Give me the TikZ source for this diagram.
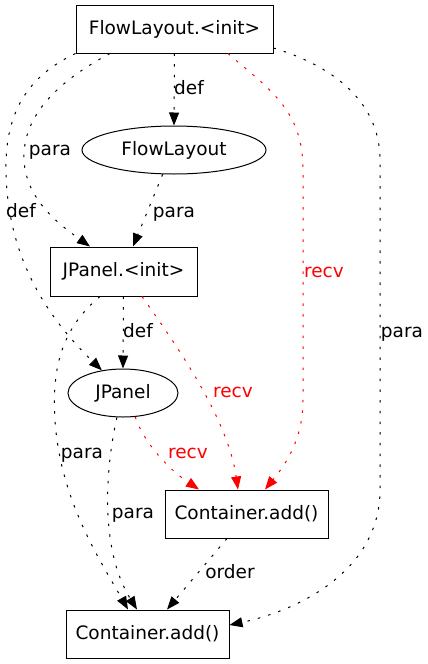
\documentclass[tikz,border=0pt]{standalone}
\usepackage{fontspec}
\setmainfont{DejaVu Sans}
\usetikzlibrary{arrows.meta,shapes.geometric}
\tikzset{
  txt/.style={font=\fontsize{18.5pt}{22pt}\selectfont},
  boxnode/.style={txt,draw=black,line width=1pt,rectangle,inner sep=0pt,minimum height=48pt,text height=14pt,text depth=3.5pt},
  ellnode/.style={txt,draw=black,line width=1pt,ellipse,inner sep=0pt,minimum height=48pt,text height=14pt,text depth=3.5pt},
  lab/.style={txt,inner sep=0pt,anchor=base},
  redlab/.style={lab,text=red},
  dep/.style={line width=1pt,dash pattern=on 2.5pt off 8.2pt,-{Triangle[length=13pt,width=10pt]}},
  reddep/.style={dep,draw=red,-{Triangle[length=13pt,width=10pt,fill=red]}}
}
\begin{document}
\begin{tikzpicture}[x=1pt,y=-1pt]
\fill[white] (0,0) rectangle (428,664);
\useasboundingbox (0,0) rectangle (428,664);
% nodes
\node[boxnode,minimum width=197pt] (fi) at (174.5,29) {FlowLayout.<init>};
\node[ellnode,minimum width=184pt] (fl) at (174,150) {FlowLayout};
\node[boxnode,minimum width=147pt,minimum height=49pt] (jpi) at (123.5,271.5) {JPanel.<init>};
\node[ellnode,minimum width=110pt] (jp) at (123,393) {JPanel};
\node[boxnode,minimum width=163pt] (ca1) at (246.5,514) {Container.add()};
\node[boxnode,minimum width=163pt] (ca2) at (147.5,634) {Container.add()};
% edges
\draw[dep] (fi.south) -- (fl.north);
\draw[dep] (fl.-115) -- ([xshift=9.5pt]jpi.north);
\draw[dep] ([xshift=-64.5pt]fi.south) .. controls (60,80) and (22,115) .. (24,160)
  .. controls (26,200) and (60,225) .. ([xshift=-33.5pt]jpi.north);
\draw[dep] (fi.south west) .. controls (30,75) and (5,110) .. (6,170)
  .. controls (7,260) and (50,320) .. (jp.133);
\draw[reddep] ([xshift=53.5pt]fi.south) .. controls (270,90) and (303,110) .. (303,170)
  -- (303,400) .. controls (303,440) and (285,465) .. ([xshift=18.5pt]ca1.north);
\draw[dep] ([yshift=-19pt]fi.east) .. controls (330,65) and (380,100) .. (380,160)
  -- (380,490) .. controls (380,570) and (300,610) .. ([yshift=9pt]ca2.east);
\draw[dep] (jpi.south) -- (jp.north);
\draw[dep] ([xshift=-23.5pt]jpi.south) .. controls (60,330) and (52,370) .. (55,420)
  .. controls (60,500) and (100,560) .. ([xshift=-19.5pt]ca2.north);
\draw[reddep] ([xshift=18.5pt]jpi.south) .. controls (180,350) and (228,420) .. ([xshift=-8.5pt]ca1.north);
\draw[reddep] (jp.-63) .. controls (145,445) and (170,470) .. ([xshift=-47.5pt]ca1.north);
\draw[dep] (jp.-104) .. controls (105,470) and (100,550) .. ([xshift=-10.5pt]ca2.north);
\draw[dep] ([xshift=-19.5pt]ca1.south) -- ([xshift=19.5pt]ca2.north);
% labels
\node[lab] (l1) at (189,94) {def};
\node[lab] (l2) at (174,217) {para};
\node[lab] (l3) at (50,155) {para};
\node[lab] (l4) at (21,217) {def};
\node[redlab] (l5) at (324,277) {recv};
\node[lab] (l6) at (402,337) {para};
\node[lab] (l7) at (138,337) {def};
\node[lab] (l8) at (82,458) {para};
\node[redlab] (l9) at (233,397) {recv};
\node[redlab] (l10) at (188,458) {recv};
\node[lab] (l11) at (133,518) {para};
\node[lab] (l12) at (230,578) {order};
\end{tikzpicture}
\end{document}
